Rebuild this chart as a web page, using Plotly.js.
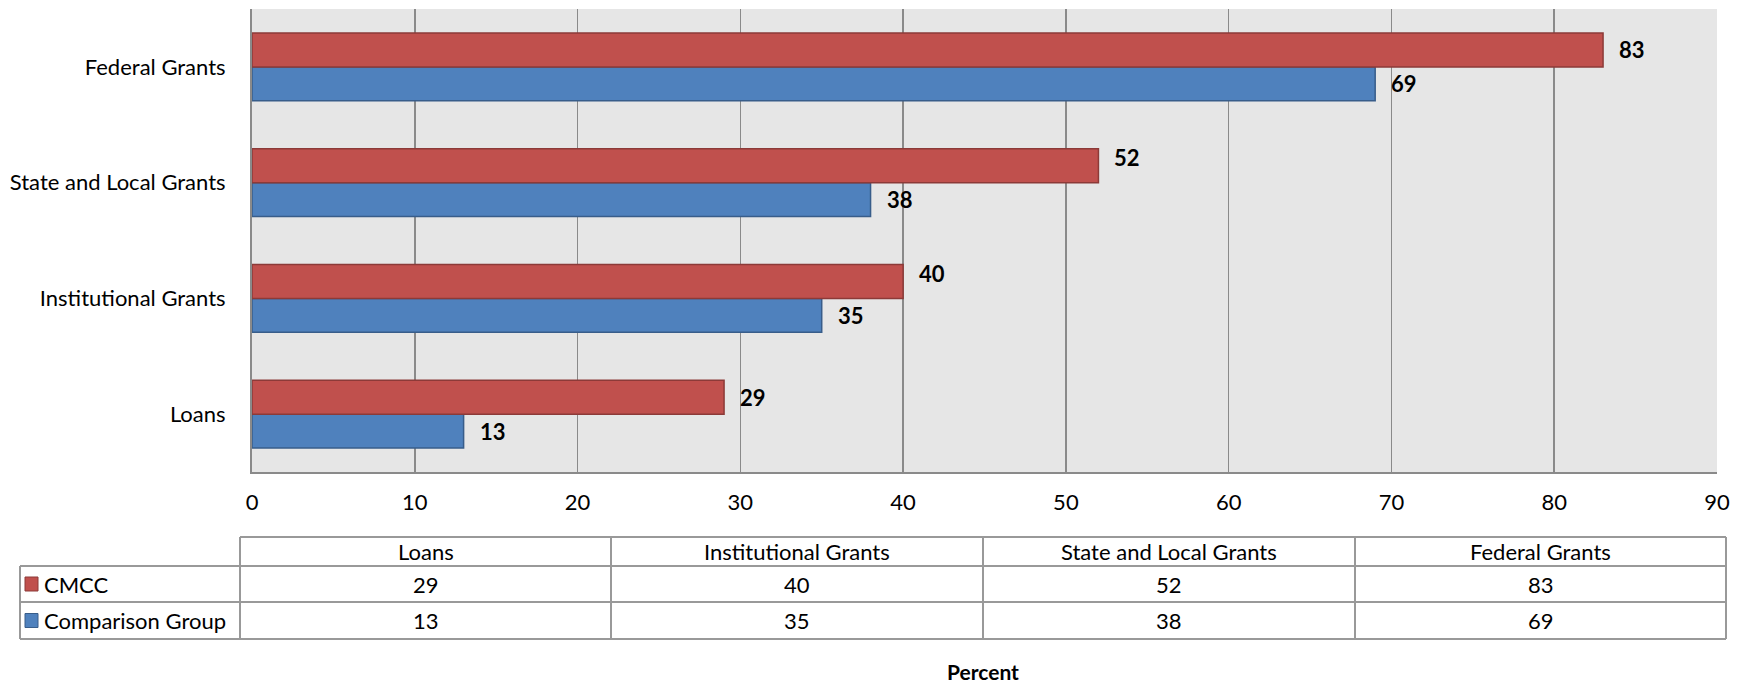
<!DOCTYPE html>
<html>
<head>
<meta charset="utf-8">
<script src="https://cdn.plot.ly/plotly-3.0.1.min.js"></script>
<style>html,body{margin:0;padding:0;background:#fff;}#chart{width:1743px;height:685px;}</style>
</head>
<body>
<div id="chart"></div>
<script>
// ---- data ----
const categories = ['Loans', 'Institutional Grants', 'State and Local Grants', 'Federal Grants'];
const seriesNames = ['CMCC', 'Comparison Group'];
const cmccValues = [29, 40, 52, 83];
const comparisonValues = [13, 35, 38, 69];
const xTickValues = [0, 10, 20, 30, 40, 50, 60, 70, 80, 90];
const xAxisTitle = 'Percent';

// ---- styles ----
const FONT = 'Lato, "Open Sans", sans-serif';
const FS = 22;
const RED = '#C0504D', RED_LINE = '#8C3A38';
const BLUE = '#4F81BD', BLUE_LINE = '#385D8A';
const GRID = '#8A8A8A';
const TABLE_LINE = '#999999';
const cmccLabelNudge = [0, 8, 8, 0];   // extra upward pixel shift of some value labels

const W = 1743, H = 685;
const M = {l: 252, r: 26, t: 9, b: 213};
const PW = W - M.l - M.r, PH = H - M.t - M.b;
const px = x => (x - M.l) / PW;          // pixel -> paper x
const py = y => (H - M.b - y) / PH;      // pixel -> paper y

const traces = [
  {type: 'bar', orientation: 'h', name: seriesNames[1], y: categories, x: comparisonValues,
   marker: {color: BLUE, line: {color: BLUE_LINE, width: 1.5}}, hoverinfo: 'x'},
  {type: 'bar', orientation: 'h', name: seriesNames[0], y: categories, x: cmccValues,
   marker: {color: RED, line: {color: RED_LINE, width: 1.5}}, hoverinfo: 'x'}
];

const annotations = [];
const shapes = [];
// value labels
categories.forEach((c, i) => {
  annotations.push({x: cmccValues[i], y: c, xref: 'x', yref: 'y', text: '<b>' + cmccValues[i] + '</b>',
    showarrow: false, xanchor: 'left', yanchor: 'middle', xshift: 14, yshift: 17 + cmccLabelNudge[i],
    font: {family: FONT, size: FS, color: '#000'}});
  annotations.push({x: comparisonValues[i], y: c, xref: 'x', yref: 'y', text: '<b>' + comparisonValues[i] + '</b>',
    showarrow: false, xanchor: 'left', yanchor: 'middle', xshift: 14, yshift: -17,
    font: {family: FONT, size: FS, color: '#000'}});
});

// ---- data table below the chart ----
const colEdges = [240, 611, 983, 1355, 1726];
const labelLeft = 20;
const rowEdges = [537, 566, 602, 639];
const line = (x0, y0, x1, y1) => shapes.push({type: 'line', xref: 'paper', yref: 'paper',
  x0: px(x0), y0: py(y0), x1: px(x1), y1: py(y1), line: {color: TABLE_LINE, width: 2}});
line(colEdges[0], rowEdges[0], colEdges[4], rowEdges[0]);
for (let r = 1; r < rowEdges.length; r++) line(labelLeft, rowEdges[r], colEdges[4], rowEdges[r]);
line(labelLeft, rowEdges[1], labelLeft, rowEdges[3]);
colEdges.forEach(x => line(x, rowEdges[0], x, rowEdges[3]));

const rowData = [cmccValues, comparisonValues];
const rowColors = [[RED, RED_LINE], [BLUE, BLUE_LINE]];
categories.forEach((c, i) => {
  const cx = (colEdges[i] + colEdges[i + 1]) / 2;
  annotations.push({x: px(cx), y: py((rowEdges[0] + rowEdges[1]) / 2), xref: 'paper', yref: 'paper',
    text: c, showarrow: false, xanchor: 'center', yanchor: 'middle', font: {family: FONT, size: FS, color: '#000'}});
  rowData.forEach((vals, r) => {
    annotations.push({x: px(cx), y: py((rowEdges[r + 1] + rowEdges[r + 2]) / 2), xref: 'paper', yref: 'paper',
      text: String(vals[i]), showarrow: false, xanchor: 'center', yanchor: 'middle', font: {family: FONT, size: FS, color: '#000'}});
  });
});
seriesNames.forEach((n, r) => {
  const cy = (rowEdges[r + 1] + rowEdges[r + 2]) / 2;
  shapes.push({type: 'rect', xref: 'paper', yref: 'paper', x0: px(25), x1: px(38), y0: py(cy - 7), y1: py(cy + 7),
    fillcolor: rowColors[r][0], line: {color: rowColors[r][1], width: 1}});
  annotations.push({x: px(42), y: py(cy), xref: 'paper', yref: 'paper', text: n, showarrow: false,
    xanchor: 'left', yanchor: 'middle', font: {family: FONT, size: FS, color: '#000'}});
});

// axis title
annotations.push({x: px(983), y: py(671), xref: 'paper', yref: 'paper', text: '<b>' + xAxisTitle + '</b>',
  showarrow: false, xanchor: 'center', yanchor: 'middle', font: {family: FONT, size: 21, color: '#000'}});

const layout = {
  width: W, height: H,
  margin: M,
  paper_bgcolor: '#ffffff',
  plot_bgcolor: '#E6E6E6',
  barmode: 'group',
  bargap: 0.414,
  bargroupgap: 0,
  showlegend: false,
  font: {family: FONT, size: FS, color: '#000'},
  xaxis: {range: [0, 90], tickvals: xTickValues, ticks: '', showgrid: true, gridcolor: GRID, gridwidth: 1.5,
    zeroline: false, showline: true, linecolor: GRID, linewidth: 2, ticklabelstandoff: 10,
    tickfont: {family: FONT, size: FS, color: '#000'}, fixedrange: true},
  yaxis: {type: 'category', categoryorder: 'array', categoryarray: categories, ticks: '', showgrid: false,
    zeroline: false, showline: true, linecolor: GRID, linewidth: 2, ticklabelstandoff: 20,
    tickfont: {family: FONT, size: FS, color: '#000'}, fixedrange: true},
  annotations: annotations,
  shapes: shapes
};

Plotly.newPlot('chart', traces, layout, {displayModeBar: false, staticPlot: true});
</script>
</body>
</html>
